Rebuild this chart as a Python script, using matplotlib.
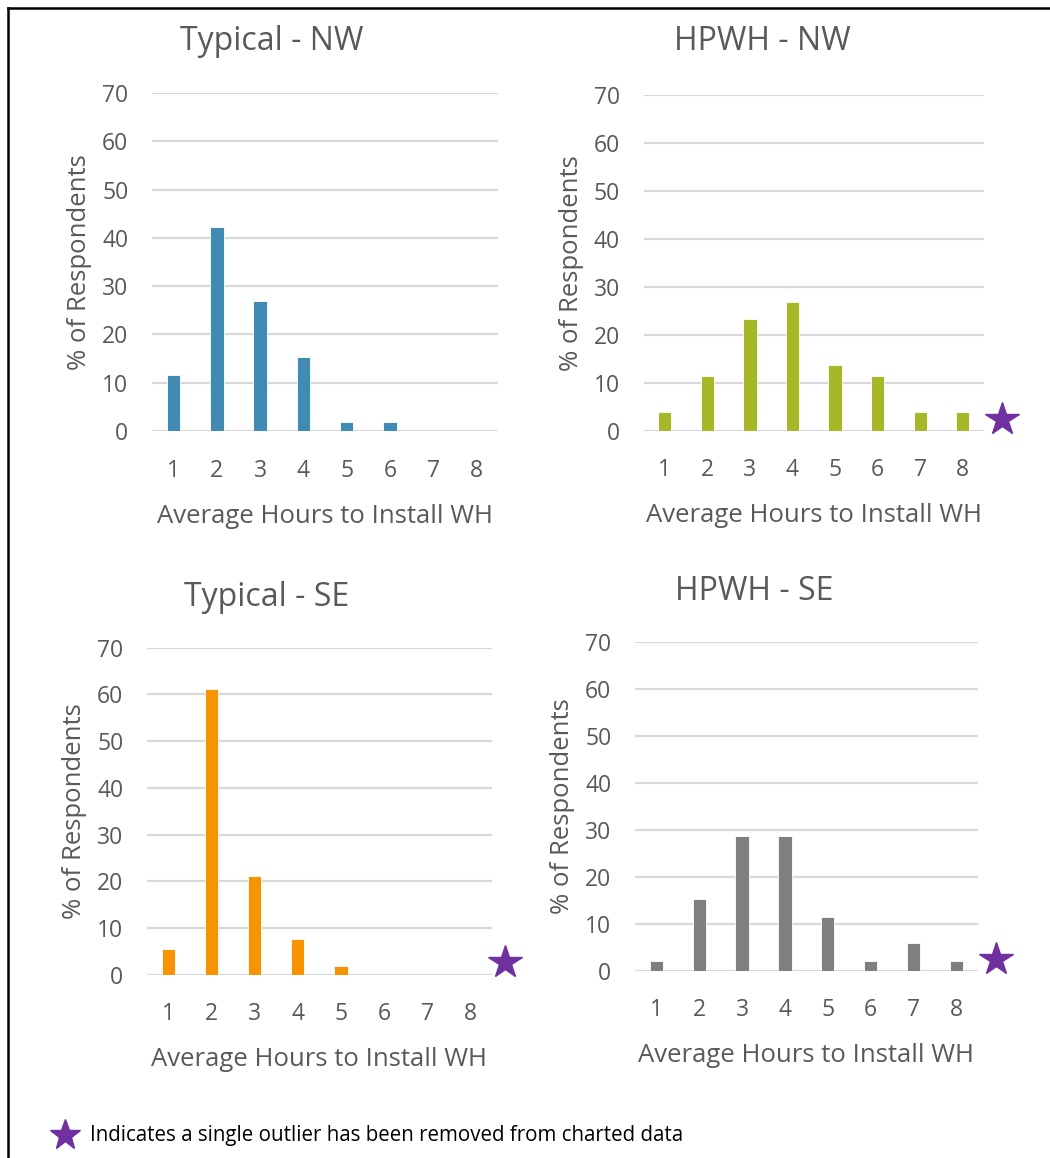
import matplotlib
matplotlib.use("Agg")
import matplotlib.pyplot as plt
from matplotlib.lines import Line2D

plt.rcParams['font.family'] = ['Open Sans', 'DejaVu Sans']

hours = [1, 2, 3, 4, 5, 6, 7, 8]
typical_nw = [11.5, 42.2, 26.9, 15.4, 1.9, 1.9, 0, 0]
hpwh_nw = [3.8, 11.5, 23.2, 26.9, 13.6, 11.5, 3.8, 3.8]
typical_se = [5.5, 61.2, 21.2, 7.7, 1.9, 0, 0, 0]
hpwh_se = [2.1, 15.2, 28.8, 28.8, 11.5, 2.1, 5.8, 2.1]

titles = ["Typical - NW", "HPWH - NW", "Typical - SE", "HPWH - SE"]
yticks = [0, 10, 20, 30, 40, 50, 60, 70]
xlabel = "Average Hours to Install WH"
ylabel = "% of Respondents"
footnote = "Indicates a single outlier has been removed from charted data"

W, H = 1050, 1158
fig = plt.figure(figsize=(W / 100, H / 100), dpi=100)

TXT = "#595959"
GRID = "#D9D9D9"
STAR = "#7030A0"

# panel specs: data, color, plot-area pixels (x_left, x_right, y_zero, y_top),
# title centre (x, y), outlier star position in data coords (or None)
panels = [
    (typical_nw, "#418AB3", (152, 498, 431, 93), (272, 42), None),
    (hpwh_nw, "#A6B727", (643.5, 984, 430.7, 94.7), (762, 42), (8.92, 2.4)),
    (typical_se, "#F59400", (147, 491.7, 974.7, 647.6), (267, 597), (8.82, 2.8)),
    (hpwh_se, "#7F7F7F", (635, 977.7, 970.7, 642.4), (754, 591), (8.92, 2.6)),
]

for (vals, color, (xl, xr, y0, y70), (tx, ty), star), title in zip(panels, titles):
    ax = fig.add_axes([xl / W, 1 - y0 / H, (xr - xl) / W, (y0 - y70) / H])
    ax.bar(hours, vals, width=0.31, color=color, edgecolor="white",
           linewidth=0.6, zorder=3)
    ax.set_xlim(0.5, 8.5)
    ax.set_ylim(0, 70)
    ax.set_yticks(yticks)
    ax.set_xticks(hours)
    ax.grid(axis="y", color=GRID, linewidth=1.6, zorder=0)
    for s in ax.spines.values():
        s.set_visible(False)
    ax.tick_params(axis="both", length=0, labelsize=16.5, labelcolor=TXT)
    ax.tick_params(axis="y", pad=17)
    ax.tick_params(axis="x", pad=20)
    ax.set_xlabel(xlabel, fontsize=18.5, color=TXT, labelpad=15)
    ax.set_ylabel(ylabel, fontsize=18.5, color=TXT, labelpad=7)
    fig.text(tx / W, 1 - ty / H, title, fontsize=23, color=TXT,
             ha="center", va="center")
    if star is not None:
        ax.plot([star[0]], [star[1]], marker="*", markersize=25, color=STAR,
                clip_on=False, zorder=5)

# footnote with star
fig.add_artist(Line2D([65 / W], [1 - 1135 / H], marker="*", markersize=23,
                      color=STAR, linestyle="none"))
fig.text(90 / W, 1 - 1135 / H, footnote, fontsize=14.8, color="black",
         ha="left", va="center")

# frame border
fig.add_artist(Line2D([8 / W, 8 / W], [0, 1 - 8 / H], color="black", linewidth=1.8))
fig.add_artist(Line2D([8 / W, 1], [1 - 8 / H, 1 - 8 / H], color="black", linewidth=1.8))

fig.savefig("out.png", dpi=100, facecolor="white")
